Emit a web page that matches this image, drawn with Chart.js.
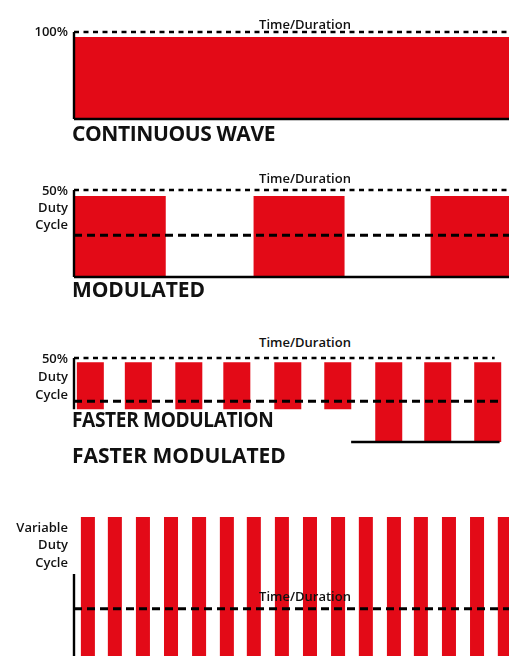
<!DOCTYPE html>
<html>
<head>
<meta charset="utf-8">
<script src="https://cdn.jsdelivr.net/npm/chart.js@4.4.1/dist/chart.umd.min.js"></script>
<style>
  html, body { margin: 0; padding: 0; background: #fff; overflow: hidden; }
  body { width: 509px; height: 656px; position: relative; font-family: 'Open Sans', sans-serif; color: #111; }
  canvas { position: absolute; left: 0; }
  .lbl { position: absolute; font-weight: 600; font-size: 13px; line-height: 1; white-space: nowrap; }
  .side { right: 441px; text-align: right; }
  .time { left: 305px; transform: translateX(-50%); }
  .head { position: absolute; left: 72px; font-weight: 700; font-size: 21px; line-height: 1; letter-spacing: -0.4px; white-space: nowrap; transform-origin: 0 50%; }
</style>
</head>
<body>
<canvas id="cw" width="509" height="97" style="top:25px"></canvas>
<canvas id="mod" width="509" height="97" style="top:183px"></canvas>
<canvas id="fast" width="509" height="94" style="top:351px"></canvas>
<canvas id="vary" width="509" height="146" style="top:510px"></canvas>

<div class="lbl time" style="top:18px">Time/Duration</div>
<div class="lbl side" style="top:25px">100%</div>
<div class="head" style="top:123px">CONTINUOUS WAVE</div>

<div class="lbl time" style="top:172px">Time/Duration</div>
<div class="lbl side" style="top:184px">50%</div>
<div class="lbl side" style="top:201px">Duty</div>
<div class="lbl side" style="top:218px">Cycle</div>
<div class="head" style="top:279px; letter-spacing: -0.1px">MODULATED</div>

<div class="lbl time" style="top:336px">Time/Duration</div>
<div class="lbl side" style="top:352px">50%</div>
<div class="lbl side" style="top:370px">Duty</div>
<div class="lbl side" style="top:388px">Cycle</div>
<div class="head" style="top:409px; transform: scaleX(0.91)">FASTER MODULATION</div>
<div class="head" style="top:445px; letter-spacing: -0.05px">FASTER MODULATED</div>

<div class="lbl side" style="top:521px">Variable</div>
<div class="lbl side" style="top:538px">Duty</div>
<div class="lbl side" style="top:556px">Cycle</div>
<div class="lbl time" style="top:590px">Time/Duration</div>

<script>
  // levels are % of the top dashed line, time in pulse periods of each panel

  // continuous wave
  const cwMid = [0.5]
  const cwTop = [94]
  const cwBase = [0]
  const cwEnd = 1

  // modulated, 50% duty cycle
  const modMid = [0.52, 2.53, 4.52]
  const modTop = [93, 93, 93]
  const modBase = [0, 0, 0]
  const modDuty = 48
  const modEnd = 4.89

  // faster modulation
  const fastMid = [0.33, 1.30, 2.32, 3.29, 4.32, 5.33, 6.36, 7.35, 8.36]
  const fastTop = [95, 95, 95, 95, 95, 95, 95, 95, 95]
  const fastBase = [39, 39, 39, 39, 39, 39, 0, 0, 0]
  const fastDuty = 48.6
  const fastAxisLow = 39
  const fastFloor = [5.6, 8.6]
  const fastRefEnd = [8.5, 8.63]
  const fastEnd = 8.79

  // variable duty cycle
  const varMid = [0.50, 1.47, 2.48, 3.49, 4.50, 5.50, 6.47, 7.48, 8.49, 9.50, 10.50, 11.51, 12.48, 13.49, 14.50, 15.50]
  const varTop = [100, 100, 100, 100, 100, 100, 100, 100, 100, 100, 100, 100, 100, 100, 100, 100]
  const varBase = [0, 0, 0, 0, 0, 0, 0, 0, 0, 0, 0, 0, 0, 0, 0, 0]
  const varDuty = 34
  const varAxisTop = 59
  const varEnd = 15.65

  const RED = '#e30a17'

  const solid = (pts) => ({ pts, w: 2.4, dash: [] })
  const fine = (pts) => ({ pts, w: 2.3, dash: [5, 4.5] })
  const thick = (pts) => ({ pts, w: 3, dash: [8, 5] })
  const seg = (x0, y0, x1, y1) => [{ x: x0, y: y0 }, { x: x1, y: y1 }]

  function pulseChart (id, o) {
    const datasets = [{
      type: 'bar',
      data: o.mid.map((t, i) => ({ x: t, y: [o.base[i], o.top[i]] })),
      backgroundColor: RED,
      borderWidth: 0,
      barPercentage: 1,
      categoryPercentage: o.ratio,
      order: 1
    }]
    o.lines.forEach(l => datasets.push({
      type: 'line',
      data: l.pts,
      borderColor: '#000',
      borderWidth: l.w,
      borderDash: l.dash,
      borderCapStyle: 'butt',
      pointRadius: 0,
      fill: false,
      clip: false,
      order: 0
    }))
    return new Chart(document.getElementById(id), {
      type: 'bar',
      data: { datasets },
      options: {
        responsive: false,
        animation: false,
        events: [],
        layout: { padding: { left: 74, right: 0, top: o.pad[0], bottom: o.pad[1] } },
        plugins: { legend: { display: false }, tooltip: { enabled: false } },
        scales: {
          x: {
            type: 'linear',
            display: false,
            offset: false,
            min: 0,
            max: o.end,
            afterBuildTicks: s => { s.ticks = [] }
          },
          y: { display: false, min: 0, max: 100 }
        }
      }
    })
  }

  pulseChart('cw', {
    mid: cwMid, top: cwTop, base: cwBase, end: cwEnd, ratio: 1, pad: [7, 3],
    lines: [fine(seg(0, 100, cwEnd, 100)), solid(seg(0, 100, 0, 0)), solid(seg(0, 0, cwEnd, 0))]
  })

  pulseChart('mod', {
    mid: modMid, top: modTop, base: modBase, end: modEnd, ratio: 0.514, pad: [7, 3],
    lines: [fine(seg(0, 100, modEnd, 100)), thick(seg(0, modDuty, modEnd, modDuty)),
      solid(seg(0, 100, 0, 0)), solid(seg(0, 0, modEnd, 0))]
  })

  pulseChart('fast', {
    mid: fastMid, top: fastTop, base: fastBase, end: fastEnd, ratio: 0.5625, pad: [7, 3],
    lines: [fine(seg(0, 100, fastRefEnd[0], 100)), thick(seg(0, fastDuty, fastRefEnd[1], fastDuty)),
      solid(seg(0, 100, 0, fastAxisLow)), solid(seg(fastFloor[0], 0, fastFloor[1], 0))]
  })

  pulseChart('vary', {
    mid: varMid, top: varTop, base: varBase, end: varEnd, ratio: 0.52, pad: [7, 0],
    lines: [thick(seg(0, varDuty, varEnd, varDuty)), solid(seg(0, varAxisTop, 0, 0))]
  })
</script>
</body>
</html>
